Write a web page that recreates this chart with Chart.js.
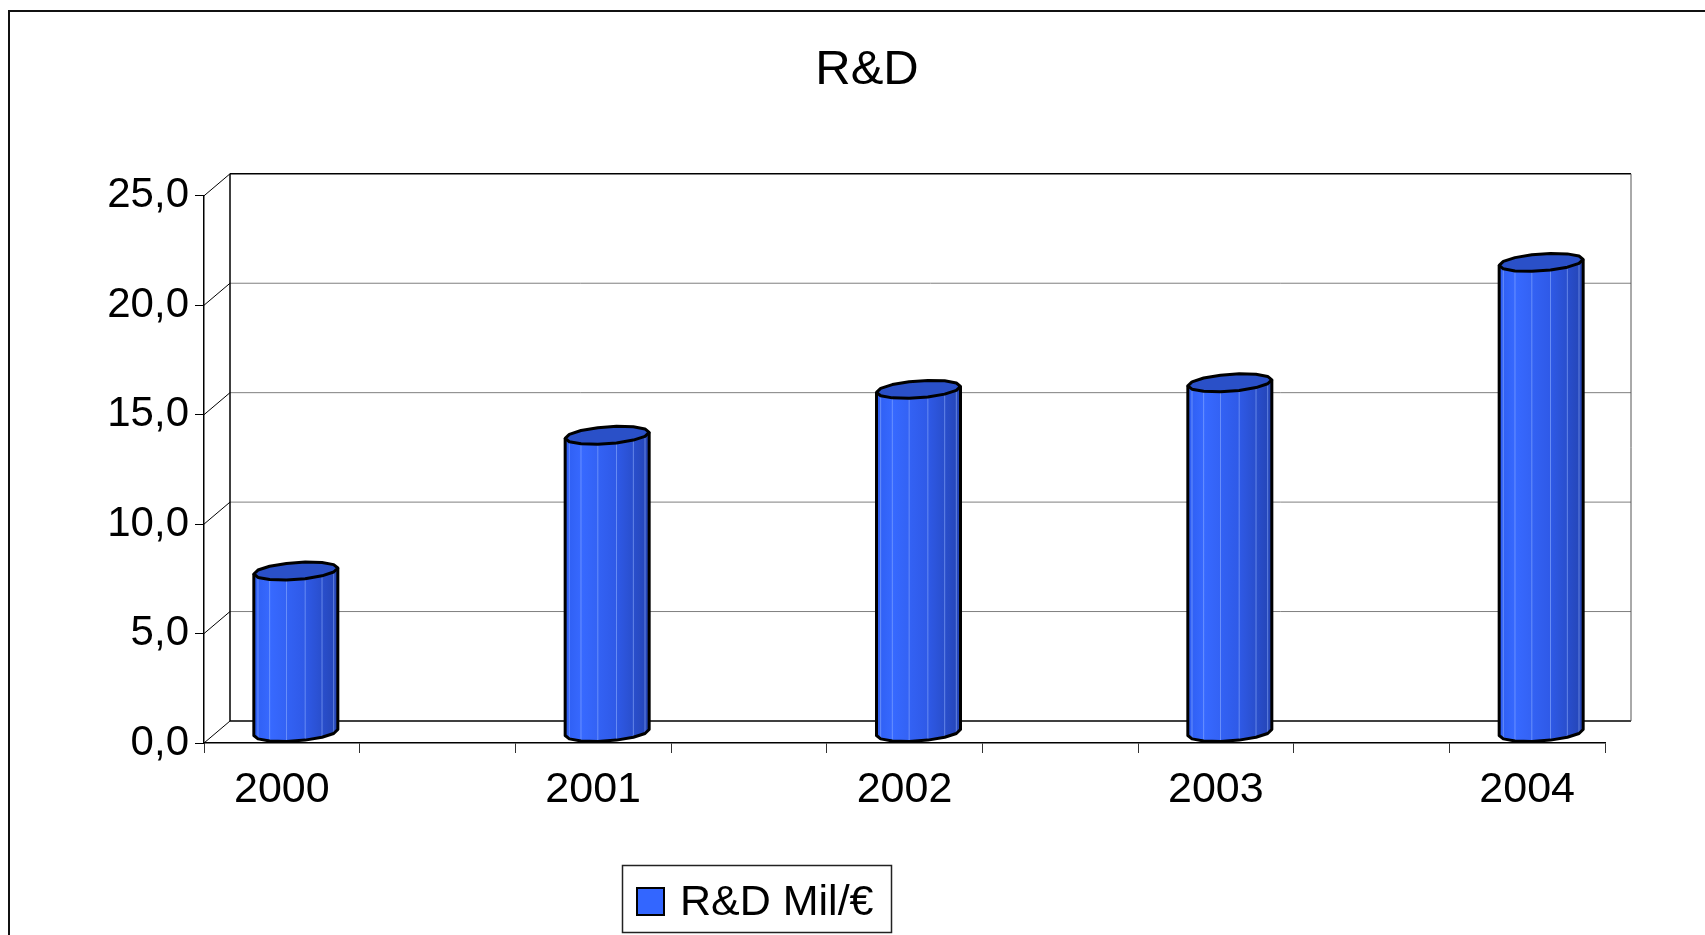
<!DOCTYPE html>
<html>
<head>
<meta charset="utf-8">
<title>R&amp;D</title>
<script src="https://cdn.jsdelivr.net/npm/chart.js@4.4.1/dist/chart.umd.min.js"></script>
<style>
  html, body { margin: 0; padding: 0; background: #fff; }
  #wrap { width: 1705px; height: 935px; position: relative; }
</style>
</head>
<body>
<div id="wrap"><canvas id="rdChart" width="1705" height="935"></canvas></div>
<script>
// values
const years = ['2000', '2001', '2002', '2003', '2004'];
const rdValues = [7.4, 13.6, 15.7, 16.0, 21.5];
const yTicks = [0, 5, 10, 15, 20, 25];
const xTickStops = [-0.25, 0.25, 0.75, 1.25, 1.75, 2.25, 2.75, 3.25, 3.75, 4.25];
const seriesLabel = 'R&D Mil/€';
const chartTitle = 'R&D';

// fake 3D depth (px) of the back wall
const DEPTH_X = 26;
const DEPTH_Y = -22;

Chart.defaults.font.family = "'Liberation Sans', Arial, sans-serif";
Chart.defaults.color = '#000';

function drawCylinder(ctx, bar) {
    const cx = bar.x + 14;
    const rx = bar.width / 2;
    const ry = 8.5;
    const skew = 3;
    const topCy = bar.y - 10;
    const botCy = bar.base - 10;
    const N = 14;
    const step = Math.PI * 2 / N;
    const pt = (cy, t) => [cx + rx * Math.cos(t), cy + ry * Math.sin(t) - skew * Math.cos(t)];

    // body
    ctx.beginPath();
    let p = pt(topCy, Math.PI);
    ctx.moveTo(p[0], p[1]);
    for (let k = N / 2; k >= 0; k--) {
        p = pt(botCy, k * step);
        ctx.lineTo(p[0], p[1]);
    }
    for (let k = 0; k <= N / 2; k++) {
        p = pt(topCy, k * step);
        ctx.lineTo(p[0], p[1]);
    }
    ctx.closePath();
    const grad = ctx.createLinearGradient(cx - rx, 0, cx + rx, 0);
    grad.addColorStop(0, '#2e5ef2');
    grad.addColorStop(0.2, '#3769ff');
    grad.addColorStop(0.6, '#2f5ae8');
    grad.addColorStop(1, '#2444b4');
    ctx.fillStyle = grad;
    ctx.fill();

    // facet lines
    ctx.lineWidth = 1;
    ctx.strokeStyle = 'rgba(150,180,255,0.55)';
    for (let k = 1; k < N / 2; k++) {
        const a = pt(topCy, k * step);
        const b = pt(botCy, k * step);
        ctx.beginPath();
        ctx.moveTo(a[0], a[1]);
        ctx.lineTo(b[0], b[1]);
        ctx.stroke();
    }

    ctx.lineWidth = 3;
    ctx.lineJoin = 'round';
    ctx.strokeStyle = '#000';
    ctx.beginPath();
    p = pt(topCy, Math.PI);
    ctx.moveTo(p[0], p[1]);
    for (let k = N / 2; k >= 0; k--) {
        p = pt(botCy, k * step);
        ctx.lineTo(p[0], p[1]);
    }
    p = pt(topCy, 0);
    ctx.lineTo(p[0], p[1]);
    ctx.stroke();

    // top cap
    ctx.beginPath();
    for (let k = 0; k < N; k++) {
        p = pt(topCy, k * step);
        if (k === 0) ctx.moveTo(p[0], p[1]); else ctx.lineTo(p[0], p[1]);
    }
    ctx.closePath();
    ctx.fillStyle = '#2a50c8';
    ctx.fill();
    ctx.stroke();
}

const wall3d = {
    id: 'wall3d',
    beforeDraw(chart) {
        // outer frame
        const ctx = chart.ctx;
        ctx.save();
        ctx.strokeStyle = '#111';
        ctx.lineWidth = 2;
        ctx.strokeRect(9, 11, 1800, 1000);
        ctx.restore();
    },
    beforeDatasetsDraw(chart) {
        const { ctx, scales: { x, y } } = chart;
        const left = x.left + DEPTH_X;
        const right = x.right + DEPTH_X;
        const top = y.getPixelForValue(y.max) + DEPTH_Y;
        const bottom = y.getPixelForValue(y.min) + DEPTH_Y;

        ctx.save();
        ctx.lineWidth = 1;
        yTicks.forEach(v => {
            const py = y.getPixelForValue(v);
            ctx.strokeStyle = (v === y.min || v === y.max) ? '#000' : '#7f7f7f';
            ctx.lineWidth = (v === y.min || v === y.max) ? 1.5 : 1;
            ctx.beginPath();
            ctx.moveTo(left, py + DEPTH_Y);
            ctx.lineTo(right, py + DEPTH_Y);
            ctx.stroke();
            // connector from the front axis
            ctx.strokeStyle = '#000';
            ctx.lineWidth = 1;
            ctx.beginPath();
            ctx.moveTo(x.left, py);
            ctx.lineTo(left, py + DEPTH_Y);
            ctx.stroke();
        });
        ctx.strokeStyle = '#000';
        ctx.lineWidth = 1.5;
        ctx.beginPath();
        ctx.moveTo(left, top);
        ctx.lineTo(left, bottom);
        ctx.stroke();
        ctx.strokeStyle = '#555';
        ctx.lineWidth = 1;
        ctx.beginPath();
        ctx.moveTo(right, top);
        ctx.lineTo(right, bottom);
        ctx.stroke();

        chart.getDatasetMeta(0).data.forEach(bar => drawCylinder(ctx, bar));
        ctx.restore();
        return false;
    },
    afterDraw(chart) {
        // legend box
        const ctx = chart.ctx;
        const ds = chart.data.datasets[0];
        ctx.save();
        ctx.strokeStyle = '#222';
        ctx.lineWidth = 1.5;
        ctx.strokeRect(622.5, 865.5, 269, 67);
        ctx.fillStyle = '#3366ff';
        ctx.fillRect(637, 888, 27, 27);
        ctx.strokeStyle = '#000';
        ctx.lineWidth = 2;
        ctx.strokeRect(637, 888, 27, 27);
        ctx.fillStyle = '#000';
        ctx.font = "43px 'Liberation Sans', Arial, sans-serif";
        ctx.textBaseline = 'middle';
        ctx.fillText(ds.label, 680, 903);
        ctx.restore();
    }
};

new Chart(document.getElementById('rdChart'), {
    type: 'bar',
    data: {
        datasets: [{
            label: seriesLabel,
            data: rdValues.map((v, i) => ({ x: i, y: v })),
            backgroundColor: '#3366ff',
            barThickness: 84
        }]
    },
    options: {
        responsive: false,
        animation: false,
        events: [],
        layout: { padding: { left: 29, right: 0, top: 0, bottom: 0 } },
        plugins: {
            legend: { display: false },
            tooltip: { enabled: false },
            title: {
                display: true,
                text: chartTitle,
                color: '#000',
                font: { size: 49, weight: 'normal' },
                padding: { top: 41, bottom: 96 }
            }
        },
        scales: {
            x: {
                type: 'linear',
                position: 'bottom',
                weight: 0,
                offset: false,
                min: -0.25,
                max: 4.25,
                afterBuildTicks: s => { s.ticks = xTickStops.map(v => ({ value: v })); },
                ticks: { display: false },
                grid: { offset: false, drawOnChartArea: false, tickLength: 10, color: '#333' },
                border: { color: '#000', width: 1.5 }
            },
            xLabels: {
                type: 'linear',
                position: 'bottom',
                weight: 1,
                offset: false,
                min: -0.25,
                max: 4.25,
                afterBuildTicks: s => { s.ticks = years.map((_, i) => ({ value: i })); },
                ticks: {
                    callback: v => years[v],
                    font: { size: 43 },
                    color: '#000',
                    padding: 11,
                    maxRotation: 0,
                    autoSkip: false
                },
                grid: { offset: false, display: false, drawTicks: false },
                border: { display: false },
                afterFit: s => { s.height = 182; }
            },
            y: {
                min: 0,
                max: 25,
                afterBuildTicks: s => { s.ticks = yTicks.map(v => ({ value: v })); },
                ticks: {
                    callback: v => v.toFixed(1).replace('.', ','),
                    font: { size: 42 },
                    color: '#000',
                    padding: 6,
                    autoSkip: false
                },
                grid: { drawOnChartArea: false, tickLength: 9, color: '#000' },
                border: { color: '#000', width: 1.5 },
                afterFit: s => { s.width = 175; }
            },
            // empty spacer on the right so the plot ends where the reference does
            spacer: {
                type: 'linear',
                position: 'right',
                display: true,
                ticks: { display: false },
                grid: { display: false, drawTicks: false },
                border: { display: false },
                afterFit: s => { s.width = 100; }
            }
        }
    },
    plugins: [wall3d]
});
</script>
</body>
</html>
